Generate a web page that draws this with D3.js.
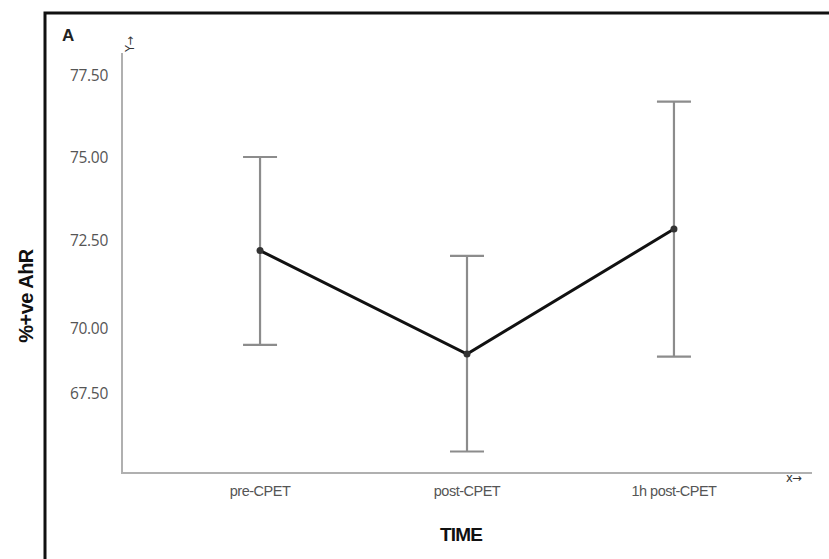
<!DOCTYPE html>
<html>
<head>
<meta charset="utf-8">
<script src="https://cdn.jsdelivr.net/npm/d3@7"></script>
<style>
  html, body { margin: 0; padding: 0; background: #fff; }
  svg { display: block; }
</style>
</head>
<body>
<svg id="chart" width="829" height="559"></svg>
<script>
// ---- data ----
const categories = ["pre-CPET", "post-CPET", "1h post-CPET"];
const means      = [72.20, 69.00, 72.83];
const upper      = [75.00, 72.05, 76.70];
const lower      = [69.35, 65.25, 68.90];
const yTicks     = [67.50, 70.00, 72.50, 75.00, 77.50];

// ---- layout ----
const W = 829, H = 559;
const axisLeft = 122, axisRight = 812, axisTop = 53, axisBottom = 473;

const svg = d3.select("#chart");

// frame (top and left edges visible)
svg.append("path")
  .attr("d", `M45,${H} L45,13 L${W},13`)
  .attr("fill", "none").attr("stroke", "#111").attr("stroke-width", 3);

const x = d3.scalePoint().domain(categories).range([axisLeft, axisRight]).padding(0.667);
// value scale as printed in the figure (labels are unevenly spaced)
const y = d3.scaleLinear().domain(yTicks).range([393, 328, 240, 157, 75.5]);

// axes lines
svg.append("line").attr("x1", axisLeft).attr("x2", axisLeft).attr("y1", axisTop).attr("y2", axisBottom)
  .attr("stroke", "#b0b0b0").attr("stroke-width", 2);
svg.append("line").attr("x1", axisLeft - 1).attr("x2", axisRight).attr("y1", axisBottom).attr("y2", axisBottom)
  .attr("stroke", "#b0b0b0").attr("stroke-width", 2);

// y tick labels
svg.append("g").selectAll("text").data(yTicks).join("text")
  .attr("x", 108).attr("y", d => y(d)).attr("dy", "0.36em")
  .attr("text-anchor", "end")
  .attr("font-family", "'Open Sans', 'DejaVu Sans', sans-serif")
  .attr("font-size", 15.5).attr("fill", "#555")
  .attr("letter-spacing", "-0.3")
  .text(d => d.toFixed(2));

// x category labels
svg.append("g").selectAll("text").data(categories).join("text")
  .attr("x", d => x(d)).attr("y", 496)
  .attr("text-anchor", "middle")
  .attr("font-family", "'Liberation Sans', Arial, sans-serif")
  .attr("font-size", 14.5).attr("fill", "#555")
  .attr("letter-spacing", "-0.5")
  .text(d => d);

// axis titles
svg.append("text").attr("x", 461).attr("y", 541).attr("text-anchor", "middle")
  .attr("font-family", "'Liberation Sans', Arial, sans-serif").attr("font-weight", "bold")
  .attr("font-size", 19).attr("fill", "#111").attr("letter-spacing", "-0.8").text("TIME");

svg.append("text").attr("transform", "translate(33,296) rotate(-90)").attr("text-anchor", "middle")
  .attr("font-family", "'Liberation Sans', Arial, sans-serif").attr("font-weight", "bold")
  .attr("font-size", 20).attr("fill", "#111").attr("letter-spacing", "-0.5").text("%+ve AhR");

svg.append("text").attr("x", 62).attr("y", 41)
  .attr("font-family", "'Liberation Sans', Arial, sans-serif").attr("font-weight", "bold")
  .attr("font-size", 17).attr("fill", "#222").text("A");

// small axis hints
svg.append("text").attr("transform", "translate(134,52) rotate(-90)").attr("text-anchor", "start")
  .attr("font-family", "'DejaVu Sans', sans-serif")
  .attr("font-size", 11.5).attr("fill", "#333").attr("letter-spacing", "-0.5").text("Y→");
svg.append("text").attr("x", 786).attr("y", 482)
  .attr("font-family", "'DejaVu Sans', sans-serif")
  .attr("font-size", 11.5).attr("fill", "#333").attr("letter-spacing", "-0.5").text("x→");

// error bars
const data = categories.map((c, i) => ({ c, m: means[i], hi: upper[i], lo: lower[i] }));
const capW = 17;
const eb = svg.append("g").attr("stroke", "#8c8c8c").attr("stroke-width", 2.2).attr("fill", "none");
eb.selectAll("line.v").data(data).join("line").attr("class", "v")
  .attr("x1", d => x(d.c)).attr("x2", d => x(d.c)).attr("y1", d => y(d.hi)).attr("y2", d => y(d.lo));
eb.selectAll("line.t").data(data).join("line").attr("class", "t")
  .attr("x1", d => x(d.c) - capW).attr("x2", d => x(d.c) + capW).attr("y1", d => y(d.hi)).attr("y2", d => y(d.hi));
eb.selectAll("line.b").data(data).join("line").attr("class", "b")
  .attr("x1", d => x(d.c) - capW).attr("x2", d => x(d.c) + capW).attr("y1", d => y(d.lo)).attr("y2", d => y(d.lo));

// mean line
svg.append("path").datum(data)
  .attr("d", d3.line().x(d => x(d.c)).y(d => y(d.m)))
  .attr("fill", "none").attr("stroke", "#111").attr("stroke-width", 3);

svg.append("g").selectAll("circle").data(data).join("circle")
  .attr("cx", d => x(d.c)).attr("cy", d => y(d.m)).attr("r", 3.5).attr("fill", "#333");
</script>
</body>
</html>
